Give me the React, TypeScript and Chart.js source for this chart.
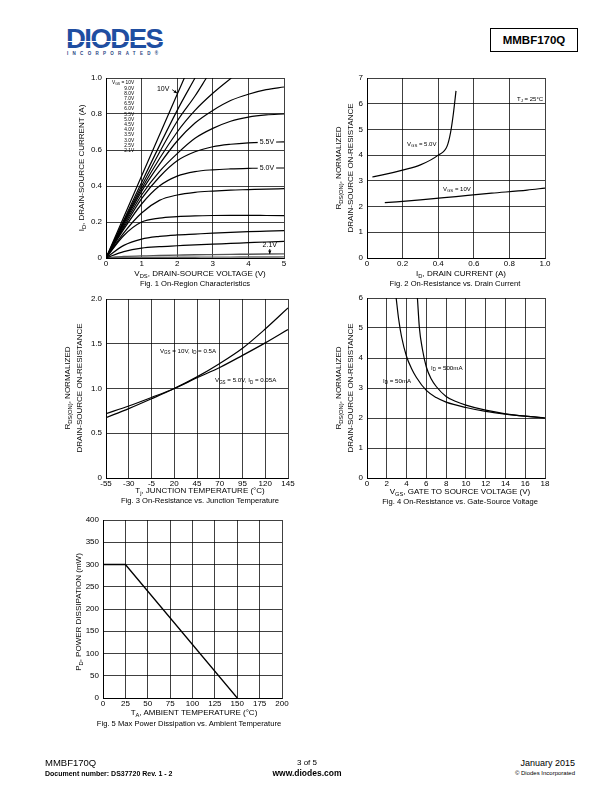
import React, { useEffect, useRef } from 'react';
import { Chart, registerables } from 'chart.js';

Chart.register(...registerables);

const FONT = '"Liberation Sans", Arial, Helvetica, sans-serif';

// ---------------- Fig. 1 data ----------------
const fig1XTicks = ['0', '1', '2', '3', '4', '5'];
const fig1YTicks = ['0', '0.2', '0.4', '0.6', '0.8', '1.0'];
const fig1Legend = ['V_{GS} = 10V', '9.0V', '8.0V', '7.0V', '6.5V', '6.0V', '5.5V', '5.0V', '4.5V', '4.0V', '3.5V', '3.0V', '2.5V', '2.1V'];
const fig1VdsA = [0, 1, 2, 2.2];
const fig1IdA = [0, 0.455, 0.91, 1.0];
const fig1VdsB = [0, 1, 2, 2.5];
const fig1IdB = [0, 0.42, 0.82, 1.0];
const fig1VdsC = [0, 1, 2, 2.5, 2.82];
const fig1IdC = [0, 0.4, 0.76, 0.9, 1.0];
const fig1VdsD = [0, 1, 2, 2.5, 3, 3.52];
const fig1IdD = [0, 0.385, 0.7, 0.82, 0.915, 1.0];
const fig1Vds = [0, 0.5, 1, 1.5, 2, 2.5, 3, 3.5, 4, 4.5, 5];
const fig1IdE = [0, 0.19, 0.37, 0.52, 0.65, 0.75, 0.82, 0.875, 0.91, 0.935, 0.95];
const fig1IdF = [0, 0.18, 0.35, 0.48, 0.58, 0.665, 0.72, 0.76, 0.783, 0.795, 0.8];
const fig1IdG = [0, 0.17, 0.33, 0.45, 0.54, 0.59, 0.618, 0.632, 0.64, 0.643, 0.645];
const fig1IdH = [0, 0.16, 0.3, 0.4, 0.455, 0.48, 0.49, 0.495, 0.498, 0.5, 0.5];
const fig1IdI = [0, 0.14, 0.25, 0.32, 0.35, 0.365, 0.372, 0.377, 0.38, 0.383, 0.385];
const fig1IdJ = [0, 0.125, 0.2, 0.222, 0.23, 0.234, 0.236, 0.237, 0.237, 0.236, 0.235];
const fig1IdK = [0, 0.07, 0.105, 0.12, 0.128, 0.133, 0.138, 0.142, 0.146, 0.149, 0.152];
const fig1IdL = [0, 0.035, 0.055, 0.063, 0.068, 0.073, 0.077, 0.081, 0.085, 0.089, 0.092];
const fig1IdM = [0, 0.008, 0.012, 0.014, 0.016, 0.018, 0.019, 0.02, 0.021, 0.022, 0.023];
const fig1IdN = [0, 0.002, 0.003, 0.0035, 0.004, 0.0045, 0.005, 0.005, 0.0055, 0.0055, 0.006];

// ---------------- Fig. 2 data ----------------
const fig2XTicks = ['0', '0.2', '0.4', '0.6', '0.8', '1.0'];
const fig2YTicks = ['0', '1', '2', '3', '4', '5', '6', '7'];
const fig2Id5V = [0.03, 0.1, 0.2, 0.3, 0.4, 0.45, 0.47, 0.485, 0.5];
const fig2R5V = [3.15, 3.25, 3.42, 3.62, 4.0, 4.35, 4.9, 5.6, 6.5];
const fig2Id10V = [0.1, 0.3, 0.5, 0.7, 0.9, 1.0];
const fig2R10V = [2.15, 2.26, 2.39, 2.52, 2.64, 2.72];

// ---------------- Fig. 3 data ----------------
const fig3XTicks = ['-55', '-30', '-5', '20', '45', '70', '95', '120', '145'];
const fig3YTicks = ['0', '0.5', '1.0', '1.5', '2.0'];
const fig3Tj = [-55, -30, -5, 20, 45, 70, 95, 120, 145];
const fig3R10V = [0.675, 0.775, 0.885, 1.0, 1.13, 1.28, 1.45, 1.665, 1.9];
const fig3R5V = [0.72, 0.805, 0.9, 1.0, 1.12, 1.235, 1.37, 1.51, 1.66];

// ---------------- Fig. 4 data ----------------
const fig4XTicks = ['0', '2', '4', '6', '8', '10', '12', '14', '16', '18'];
const fig4YTicks = ['0', '1', '2', '3', '4', '5', '6'];
const fig4Vgs50 = [2.95, 3.2, 3.5, 4, 4.5, 5, 6, 7, 8, 10, 12, 14, 16, 18];
const fig4R50 = [6.0, 5.3, 4.7, 4.05, 3.65, 3.35, 2.92, 2.68, 2.53, 2.35, 2.22, 2.13, 2.06, 2.0];
const fig4Vgs500 = [5.1, 5.3, 5.6, 6, 6.5, 7, 8, 9, 10, 12, 14, 16, 18];
const fig4R500 = [6.0, 5.0, 4.3, 3.7, 3.3, 3.05, 2.72, 2.55, 2.43, 2.26, 2.14, 2.06, 2.0];

// ---------------- Fig. 5 data ----------------
const fig5XTicks = ['0', '25', '50', '75', '100', '125', '150', '175', '200'];
const fig5YTicks = ['0', '50', '100', '150', '200', '250', '300', '350', '400'];
const fig5Ta = [0, 25, 150];
const fig5Pd = [300, 300, 0];

// ---------------- helpers ----------------
const ML = 34, MR = 10, MT = 6, MB = 14;

type Ann = { x: number; y: number; text: string; size: number; align?: 'left' | 'center' | 'right'; bg?: boolean; arrow?: number[] };

function parseRich(text: string) {
  const out: { t: string; sub: boolean }[] = [];
  const re = /_\{([^}]*)\}/g;
  let last = 0;
  let m: RegExpExecArray | null;
  while ((m = re.exec(text))) {
    if (m.index > last) out.push({ t: text.slice(last, m.index), sub: false });
    out.push({ t: m[1], sub: true });
    last = re.lastIndex;
  }
  if (last < text.length) out.push({ t: text.slice(last), sub: false });
  return out;
}

function drawRich(ctx: CanvasRenderingContext2D, text: string, x: number, y: number, size: number, align: string, bg?: boolean) {
  const parts = parseRich(text);
  const fontFor = (sub: boolean) => `${sub ? size * 0.72 : size}px ${FONT}`;
  let total = 0;
  const widths = parts.map((p) => {
    ctx.font = fontFor(p.sub);
    const w = ctx.measureText(p.t).width;
    total += w;
    return w;
  });
  let sx = align === 'center' ? x - total / 2 : align === 'right' ? x - total : x;
  if (bg) {
    ctx.fillStyle = '#fff';
    ctx.fillRect(sx - 2, y - size * 0.55, total + 4, size * 1.1);
  }
  ctx.fillStyle = '#000';
  ctx.textBaseline = 'middle';
  ctx.textAlign = 'left';
  parts.forEach((p, i) => {
    ctx.font = fontFor(p.sub);
    ctx.fillText(p.t, sx, p.sub ? y + size * 0.3 : y);
    sx += widths[i];
  });
}

function annPlugin(items: Ann[], legend?: { x: number; lines: string[]; size: number; step: number }) {
  return {
    id: 'ann',
    afterDatasetsDraw(chart: any) {
      const ctx: CanvasRenderingContext2D = chart.ctx;
      const xs = chart.scales.x;
      const ys = chart.scales.y;
      ctx.save();
      items.forEach((a) => {
        if (a.arrow) {
          const x1 = xs.getPixelForValue(a.arrow[0]);
          const y1 = ys.getPixelForValue(a.arrow[1]);
          const x2 = xs.getPixelForValue(a.arrow[2]);
          const y2 = ys.getPixelForValue(a.arrow[3]);
          const ang = Math.atan2(y2 - y1, x2 - x1);
          ctx.strokeStyle = '#000';
          ctx.lineWidth = 0.9;
          ctx.beginPath();
          ctx.moveTo(x1, y1);
          ctx.lineTo(x2, y2);
          ctx.stroke();
          ctx.fillStyle = '#000';
          ctx.beginPath();
          ctx.moveTo(x2, y2);
          ctx.lineTo(x2 - 3.5 * Math.cos(ang) + 1.6 * Math.sin(ang), y2 - 3.5 * Math.sin(ang) - 1.6 * Math.cos(ang));
          ctx.lineTo(x2 - 3.5 * Math.cos(ang) - 1.6 * Math.sin(ang), y2 - 3.5 * Math.sin(ang) + 1.6 * Math.cos(ang));
          ctx.closePath();
          ctx.fill();
        }
        drawRich(ctx, a.text, xs.getPixelForValue(a.x), ys.getPixelForValue(a.y), a.size, a.align || 'left', a.bg);
      });
      if (legend) {
        const px = xs.getPixelForValue(legend.x);
        legend.lines.forEach((l, i) => {
          drawRich(ctx, l, px, chart.chartArea.top + 5 + i * legend.step, legend.size, 'right');
        });
      }
      ctx.restore();
    },
  };
}

function axis(pos: 'bottom' | 'left', min: number, max: number, step: number, labels: string[]) {
  return {
    type: 'linear',
    position: pos,
    min,
    max,
    ticks: {
      stepSize: step,
      autoSkip: false,
      maxRotation: 0,
      minRotation: 0,
      color: '#000',
      padding: pos === 'left' ? 4 : 1,
      font: { family: FONT, size: 8 },
      callback: (_v: any, i: number) => labels[i] ?? '',
    },
    grid: { color: '#000', lineWidth: 0.75, drawTicks: false },
    border: { color: '#000', width: 1 },
    afterFit: (s: any) => {
      if (pos === 'left') s.width = ML;
      else s.height = MB;
      s.paddingLeft = 0;
      s.paddingRight = 0;
      s.paddingTop = 0;
      s.paddingBottom = 0;
    },
  };
}

function line(xs: number[], ys: number[], extra: any = {}) {
  return {
    data: xs.map((x, i) => ({ x, y: ys[i] })),
    borderColor: '#000',
    borderWidth: 1.2,
    pointRadius: 0,
    fill: false,
    cubicInterpolationMode: 'monotone',
    ...extra,
  };
}

function makeConfig(datasets: any[], xAxis: any, yAxis: any, plugin: any) {
  return {
    type: 'line',
    data: { datasets },
    options: {
      animation: false,
      responsive: false,
      events: [],
      layout: { padding: { top: MT, right: MR, left: 0, bottom: 0 } },
      plugins: { legend: { display: false }, tooltip: { enabled: false } },
      scales: { x: xAxis, y: yAxis },
    },
    plugins: [plugin],
  } as any;
}

function ChartBox({ l, t, r, b, build }: { l: number; t: number; r: number; b: number; build: () => any }) {
  const ref = useRef<HTMLCanvasElement>(null);
  const w = r - l + ML + MR;
  const h = b - t + MT + MB;
  useEffect(() => {
    const c = new Chart(ref.current as HTMLCanvasElement, build());
    return () => c.destroy();
  }, []);
  return <canvas ref={ref} width={w} height={h} style={{ position: 'absolute', left: l - ML, top: t - MT, width: w, height: h }} />;
}

function Rich({ text }: { text: string }) {
  return (
    <>
      {parseRich(text).map((p, i) =>
        p.sub ? (
          <span key={i} style={{ fontSize: '0.72em', position: 'relative', top: '0.3em' }}>{p.t}</span>
        ) : (
          <span key={i}>{p.t}</span>
        )
      )}
    </>
  );
}

function HText({ cx, cy, text, size, bold, align = 'center' }: { cx: number; cy: number; text: string; size: number; bold?: boolean; align?: string }) {
  const tx = align === 'center' ? '-50%' : align === 'right' ? '-100%' : '0';
  return (
    <div style={{ position: 'absolute', left: cx, top: cy, transform: `translate(${tx},-50%)`, whiteSpace: 'nowrap', fontSize: size, lineHeight: `${size + 2}px`, fontWeight: bold ? 'bold' : 'normal' }}>
      <Rich text={text} />
    </div>
  );
}

// Rotated (bottom-to-top) axis title, centred on (cx, cy)
function VText({ cx, cy, lines, size, width = 180 }: { cx: number; cy: number; lines: string[]; size: number; width?: number }) {
  const lh = 12;
  const h = lines.length * lh;
  return (
    <div
      style={{
        position: 'absolute',
        left: Math.round(cx - width / 2),
        top: Math.round(cy - h / 2),
        width,
        height: h,
        transform: 'rotate(-90deg)',
        transformOrigin: '50% 50%',
        whiteSpace: 'nowrap',
        textAlign: 'center',
        fontSize: size,
        lineHeight: `${lh}px`,
      }}
    >
      {lines.map((l, i) => (
        <div key={i}>
          <Rich text={l} />
        </div>
      ))}
    </div>
  );
}

// ---------------- chart builders ----------------
const fig1Anns: Ann[] = [
  { x: 1.43, y: 0.94, text: '10V', size: 7, arrow: [1.86, 0.935, 2.0, 0.915] },
  { x: 4.52, y: 0.645, text: '5.5V', size: 7, align: 'center', bg: true },
  { x: 4.52, y: 0.5, text: '5.0V', size: 7, align: 'center', bg: true },
  { x: 4.6, y: 0.07, text: '2.1V', size: 7, align: 'center', arrow: [4.6, 0.05, 4.6, 0.022] },
];

const buildFig1 = () =>
  makeConfig(
    [
      line(fig1VdsA, fig1IdA),
      line(fig1VdsB, fig1IdB),
      line(fig1VdsC, fig1IdC),
      line(fig1VdsD, fig1IdD),
      line(fig1Vds, fig1IdE),
      line(fig1Vds, fig1IdF),
      line(fig1Vds, fig1IdG),
      line(fig1Vds, fig1IdH),
      line(fig1Vds, fig1IdI),
      line(fig1Vds, fig1IdJ),
      line(fig1Vds, fig1IdK),
      line(fig1Vds, fig1IdL),
      line(fig1Vds, fig1IdM, { borderColor: '#555', borderWidth: 1.4 }),
      line(fig1Vds, fig1IdN, { borderColor: '#666', borderWidth: 1.4 }),
    ],
    axis('bottom', 0, 5, 1, fig1XTicks),
    axis('left', 0, 1, 0.2, fig1YTicks),
    annPlugin(fig1Anns, { x: 0.79, lines: fig1Legend, size: 4.8, step: 5.2 })
  );

const fig2Anns: Ann[] = [
  { x: 0.225, y: 4.43, text: 'V_{GS} = 5.0V', size: 6 },
  { x: 0.427, y: 2.68, text: 'V_{GS} = 10V', size: 6 },
  { x: 0.843, y: 6.18, text: 'T_{J} = 25°C', size: 6 },
];

const buildFig2 = () =>
  makeConfig(
    [line(fig2Id5V, fig2R5V), line(fig2Id10V, fig2R10V)],
    axis('bottom', 0, 1, 0.2, fig2XTicks),
    axis('left', 0, 7, 1, fig2YTicks),
    annPlugin(fig2Anns)
  );

const fig3Anns: Ann[] = [
  { x: 4.3, y: 1.42, text: 'V_{GS} = 10V, I_{D} = 0.5A', size: 6.2 },
  { x: 64.8, y: 1.09, text: 'V_{GS} = 5.0V, I_{D} = 0.05A', size: 6.2 },
];

const buildFig3 = () =>
  makeConfig(
    [line(fig3Tj, fig3R10V), line(fig3Tj, fig3R5V)],
    axis('bottom', -55, 145, 25, fig3XTicks),
    axis('left', 0, 2, 0.5, fig3YTicks),
    annPlugin(fig3Anns)
  );

const fig4Anns: Ann[] = [
  { x: 6.47, y: 3.67, text: 'I_{D} = 500mA', size: 6.2 },
  { x: 1.62, y: 3.22, text: 'I_{D} = 50mA', size: 6.2 },
];

const buildFig4 = () =>
  makeConfig(
    [line(fig4Vgs50, fig4R50), line(fig4Vgs500, fig4R500)],
    axis('bottom', 0, 18, 2, fig4XTicks),
    axis('left', 0, 6, 1, fig4YTicks),
    annPlugin(fig4Anns)
  );

const buildFig5 = () =>
  makeConfig(
    [line(fig5Ta, fig5Pd, { cubicInterpolationMode: 'default', tension: 0, borderWidth: 1.3 })],
    axis('bottom', 0, 200, 25, fig5XTicks),
    axis('left', 0, 400, 50, fig5YTicks),
    annPlugin([])
  );

const RDS = ['R_{DS(ON)}, NORMALIZED', 'DRAIN-SOURCE ON-RESISTANCE'];

export default function App() {
  return (
    <div style={{ position: 'absolute', left: 0, top: 0, width: 612, height: 792, background: '#fff', fontFamily: FONT, color: '#000', overflow: 'hidden' }}>
      {/* Header */}
      <div style={{ position: 'absolute', left: 66, top: 24, fontSize: 27, fontWeight: 'bold', color: '#1f4ea1', letterSpacing: -1.5, lineHeight: '30px', transform: 'scaleX(1.02)', transformOrigin: 'left' }}>DIODES</div>
      <div style={{ position: 'absolute', left: 66, top: 41, width: 100, height: 1.2, background: '#fff' }} />
      <div style={{ position: 'absolute', left: 67, top: 51, fontSize: 4.5, fontWeight: 'bold', color: '#1f3f7f', letterSpacing: 4.3, lineHeight: '6px', whiteSpace: 'nowrap' }}>INCORPORATED<span style={{ letterSpacing: 0 }}>®</span></div>
      <div style={{ position: 'absolute', left: 490, top: 28, width: 86, height: 22, border: '1px solid #000', fontSize: 11.5, fontWeight: 'bold', display: 'flex', alignItems: 'center', justifyContent: 'center' }}>MMBF170Q</div>

      {/* Fig 1 */}
      <ChartBox l={106} t={78} r={284} b={258} build={buildFig1} />
      <VText cx={82} cy={168} lines={['I_{D}, DRAIN-SOURCE CURRENT (A)']} size={8} />
      <HText cx={200} cy={274} text="V_{DS}, DRAIN-SOURCE VOLTAGE (V)" size={8} />
      <HText cx={195} cy={284} text="Fig. 1  On-Region Characteristics" size={7.6} />

      {/* Fig 2 */}
      <ChartBox l={367} t={78} r={545} b={258} build={buildFig2} />
      <VText cx={345} cy={168} lines={RDS} size={8} />
      <HText cx={461} cy={274} text="I_{D}, DRAIN CURRENT (A)" size={8} />
      <HText cx={455} cy={284} text="Fig. 2  On-Resistance vs. Drain Current" size={7.6} />

      {/* Fig 3 */}
      <ChartBox l={106} t={299} r={288} b={478} build={buildFig3} />
      <VText cx={74} cy={388} lines={RDS} size={8} />
      <HText cx={200} cy={491} text="T_{j}, JUNCTION TEMPERATURE (°C)" size={8} />
      <HText cx={200} cy={501} text="Fig. 3  On-Resistance vs. Junction Temperature" size={7.6} />

      {/* Fig 4 */}
      <ChartBox l={367} t={298} r={545} b={478} build={buildFig4} />
      <VText cx={345} cy={388} lines={RDS} size={8} />
      <HText cx={460} cy={492} text="V_{GS}, GATE TO SOURCE VOLTAGE (V)" size={8} />
      <HText cx={460} cy={502} text="Fig. 4  On-Resistance vs. Gate-Source Voltage" size={7.6} />

      {/* Fig 5 */}
      <ChartBox l={103} t={520} r={282} b={698} build={buildFig5} />
      <VText cx={79} cy={612} lines={['P_{D}, POWER DISSIPATION (mW)']} size={8} />
      <HText cx={194} cy={713} text="T_{A}, AMBIENT TEMPERATURE (°C)" size={8} />
      <HText cx={189} cy={724} text="Fig. 5 Max Power Dissipation vs. Ambient Temperature" size={7.6} />

      {/* Footer */}
      <HText cx={45} cy={763} text="MMBF170Q" size={9.5} align="left" />
      <HText cx={45} cy={773} text="Document number: DS37720 Rev. 1 - 2" size={7} align="left" bold />
      <HText cx={307} cy={763} text="3 of 5" size={8} />
      <HText cx={307} cy={773} text="www.diodes.com" size={8.5} bold />
      <HText cx={575} cy={763} text="January 2015" size={9} align="right" />
      <HText cx={575} cy={773} text="© Diodes Incorporated" size={6} align="right" />
    </div>
  );
}
